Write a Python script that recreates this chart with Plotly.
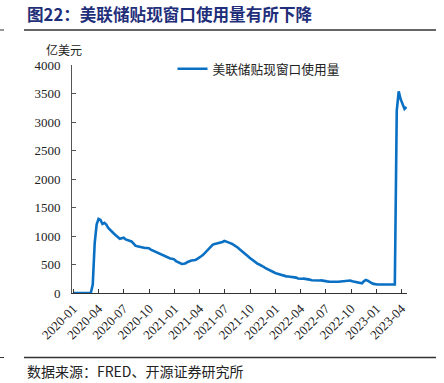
import pandas as pd
import plotly.graph_objects as go

# Weekly (Wednesday) dates from 2020-01-01
dates = pd.date_range("2020-01-01", periods=173, freq="7D")

vals_2020 = [0, 0, 0, 0, 0, 0, 0, 0, 0, 0,
             150, 870, 1200, 1300, 1280, 1210, 1230, 1200, 1140, 1100,
             1070, 1040, 1010, 980, 950, 960, 970, 940, 930, 915,
             905, 870, 830, 820, 810, 800, 795, 790, 790, 785,
             760, 745, 730, 710, 690, 680, 665, 650, 630, 612,
             605, 600, 590]
vals_2021 = [560, 540, 520, 510, 512, 520, 545, 565, 570, 575,
             580, 600, 630, 645, 670, 705, 745, 790, 825, 850,
             860, 868, 875, 885, 895, 915, 905, 890, 875, 860,
             840, 820, 795, 765, 740, 710, 680, 650, 620, 590,
             565, 540, 515, 500, 485, 465, 440, 420, 405, 390,
             370, 355]
vals_2022 = [340, 328, 318, 305, 298, 292, 288, 285, 282, 280,
             270, 255, 246, 250, 252, 250, 245, 235, 225, 221,
             220, 222, 220, 221, 212, 206, 204, 200, 198, 195,
             193, 193, 197, 203, 204, 208, 215, 220, 218, 205,
             196, 192, 180, 168, 170, 205, 230, 215, 190, 175,
             160, 150]
vals_2023 = [148, 150, 152, 155, 158, 155, 150, 148, 147, 150,
             3200, 3537, 3400, 3300, 3228, 3263]

values = vals_2020 + vals_2021 + vals_2022 + vals_2023

x_ticks = ["2020-01", "2020-04", "2020-07", "2020-10", "2021-01", "2021-04",
           "2021-07", "2021-10", "2022-01", "2022-04", "2022-07", "2022-10",
           "2023-01", "2023-04"]
y_ticks = [0, 500, 1000, 1500, 2000, 2500, 3000, 3500, 4000]

series_name = "美联储贴现窗口使用量"
title_text = "图22：美联储贴现窗口使用量有所下降"
source_text = "数据来源：FRED、开源证券研究所"
unit_text = "亿美元"

SERIF = "'Liberation Serif', 'Noto Sans CJK SC', serif"
CJK = "'Noto Sans CJK SC', sans-serif"

fig = go.Figure()
fig.add_trace(go.Scatter(
    x=dates, y=values, mode="lines", name=series_name,
    line=dict(color="#0A70C4", width=2.6),
))

fig.update_layout(
    width=444, height=383,
    margin=dict(l=72, r=37, t=65, b=90, autoexpand=False),
    paper_bgcolor="white", plot_bgcolor="white",
    showlegend=True,
    legend=dict(x=0.30, y=(293 - 69) / 228, xanchor="left", yanchor="middle",
                font=dict(family=CJK, size=12.7, color="#222"),
                bgcolor="rgba(0,0,0,0)", itemwidth=30),
    font=dict(family=SERIF, size=13, color="#222"),
)

fig.update_xaxes(
    range=["2019-12-27", "2023-04-21"],
    tickvals=[pd.Timestamp(t + "-01") for t in x_ticks],
    ticktext=x_ticks,
    tickangle=-45,
    ticks="inside", ticklen=4, tickcolor="#333",
    showline=True, linecolor="#333", linewidth=1,
    showgrid=False, zeroline=False,
    ticklabelstandoff=2,
    tickfont=dict(family=SERIF, size=13, color="#222"),
)
fig.update_yaxes(
    range=[0, 4000],
    tickvals=y_ticks,
    ticks="inside", ticklen=4, tickcolor="#555",
    showline=True, linecolor="#555", linewidth=1,
    showgrid=False, zeroline=False,
    ticklabelstandoff=8,
    tickfont=dict(family=SERIF, size=13, color="#222"),
)

# Title
fig.add_annotation(text="<b>" + title_text + "</b>", xref="paper", yref="paper",
                   x=(25 - 72) / 335, y=1 + (65 - 14) / 228, xanchor="left", yanchor="middle",
                   showarrow=False,
                   font=dict(family=CJK, size=16.6, color="#1F2F7A"))
# Unit label
fig.add_annotation(text=unit_text, xref="paper", yref="paper",
                   x=(64 - 72) / 335, y=1 + (65 - 50) / 228, xanchor="center", yanchor="middle",
                   showarrow=False,
                   font=dict(family=CJK, size=12, color="#222"))
# Source
fig.add_annotation(text=source_text, xref="paper", yref="paper",
                   x=(25 - 72) / 335, y=-(371 - 293) / 228, xanchor="left", yanchor="middle",
                   showarrow=False,
                   font=dict(family=CJK, size=14, color="#222"))

# Rule lines (page decoration)
for yy in (30, 357.5):
    fig.add_shape(type="line", xref="paper", yref="paper",
                  x0=(24 - 72) / 335, x1=(436 - 72) / 335,
                  y0=(293 - yy) / 228, y1=(293 - yy) / 228,
                  line=dict(color="#333", width=1.3))
    fig.add_shape(type="line", xref="paper", yref="paper",
                  x0=(0 - 72) / 335, x1=(4 - 72) / 335,
                  y0=(293 - yy) / 228, y1=(293 - yy) / 228,
                  line=dict(color="#333", width=1))

fig.write_html("out.html",
               config={"displayModeBar": False},
               post_script="document.body.style.margin='0';document.body.style.overflow='hidden';")
